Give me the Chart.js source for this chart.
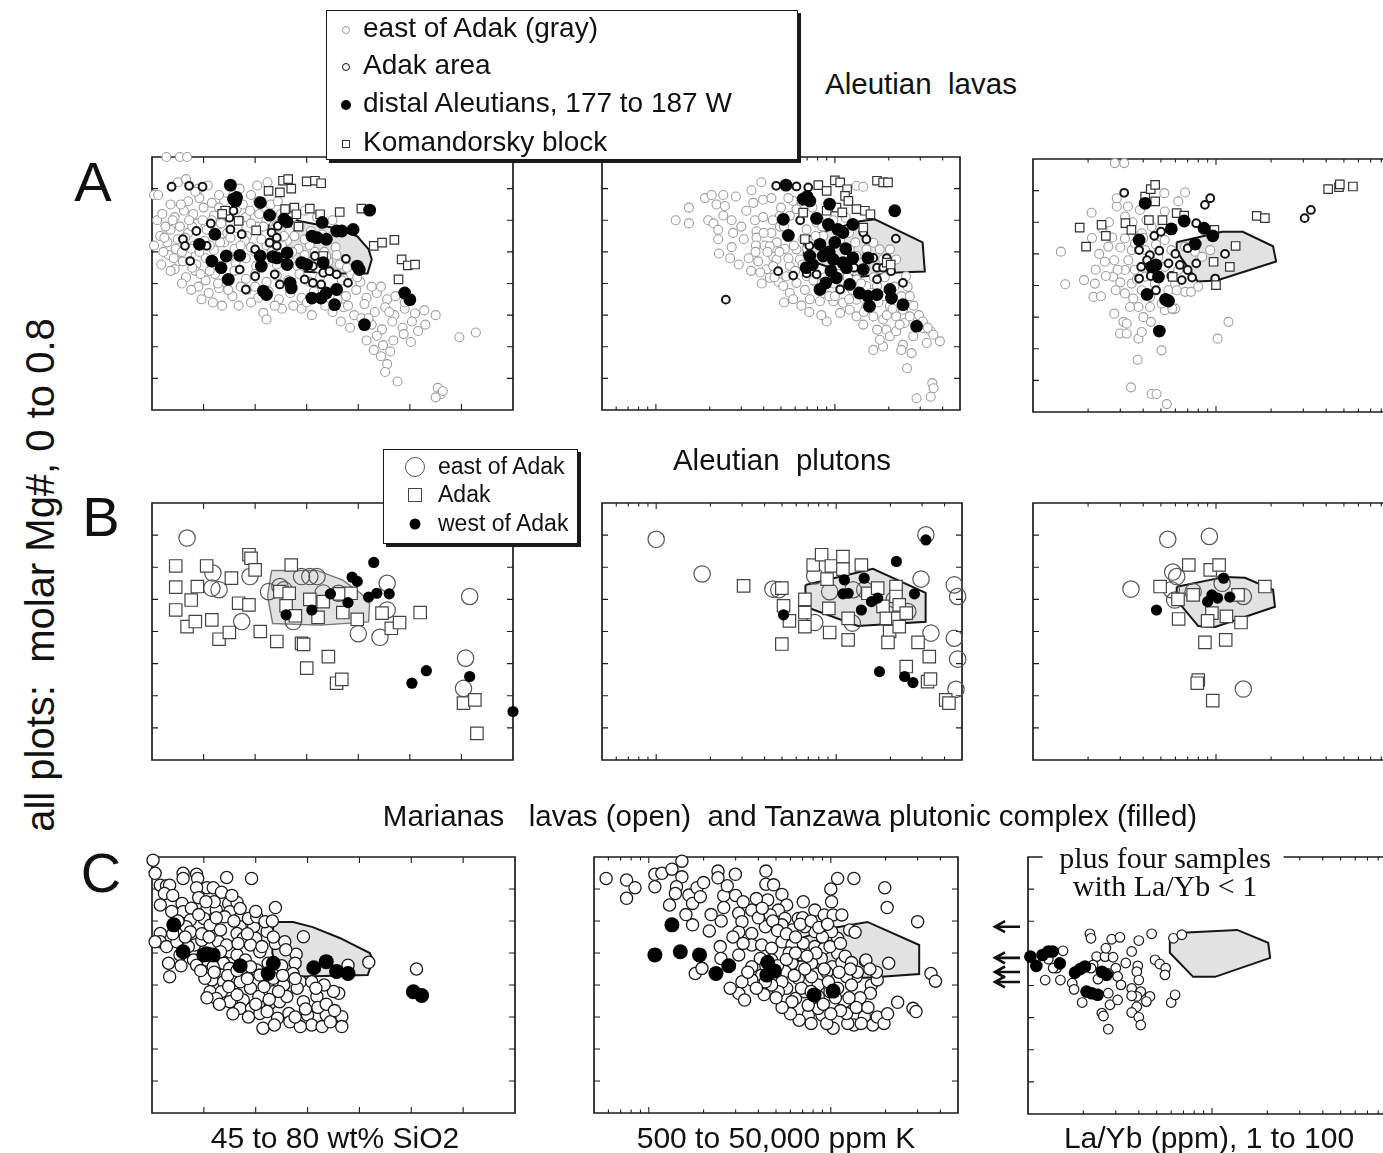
<!DOCTYPE html>
<html>
<head>
<meta charset="utf-8">
<script src="https://cdn.jsdelivr.net/npm/chart.js@4/dist/chart.umd.min.js"></script>
<style>
html, body { margin: 0; padding: 0; width: 1383px; height: 1153px; overflow: hidden; background: #fff; }
body { position: relative; font-family: "Liberation Sans", Arial, Helvetica, sans-serif; color: #111; }
canvas { position: absolute; }
.t { position: absolute; white-space: pre; line-height: 1; transform: translate(-50%, -50%); z-index: 3; }
.l { position: absolute; white-space: pre; line-height: 1; transform: translateY(-50%); }
.lg { position: absolute; box-sizing: border-box; background: #fff; border: 1.5px solid #1a1a1a; box-shadow: 3px 3px 0 #1a1a1a; z-index: 5; }
.mk { position: absolute; box-sizing: border-box; transform: translate(-50%, -50%); }
.serif { font-family: "Liberation Serif", "Times New Roman", serif; }
</style>
</head>
<body>

<div class="t" style="left:93px;top:182px;font-size:56px;">A</div>
<div class="t" style="left:101px;top:517px;font-size:56px;">B</div>
<div class="t" style="left:101px;top:873px;font-size:56px;">C</div>

<div class="t" style="left:921px;top:84px;font-size:29.5px;">Aleutian  lavas</div>
<div class="t" style="left:782px;top:460px;font-size:29.5px;">Aleutian  plutons</div>
<div class="t" style="left:790px;top:816px;font-size:29.5px;">Marianas   lavas (open)  and Tanzawa plutonic complex (filled)</div>

<div class="t" style="left:335px;top:1138px;font-size:30px;">45 to 80 wt% SiO2</div>
<div class="t" style="left:776px;top:1138px;font-size:30px;">500 to 50,000 ppm K</div>
<div class="t" style="left:1209px;top:1138px;font-size:30px;">La/Yb (ppm), 1 to 100</div>

<div class="t" style="left:40px;top:575px;font-size:40px;transform:translate(-50%,-50%) rotate(-90deg);">all plots:  molar Mg#, 0 to 0.8</div>

<div class="t serif" style="left:1165px;top:858px;font-size:30px;">plus four samples</div>
<div class="t serif" style="left:1165px;top:886px;font-size:30px;">with La/Yb &lt; 1</div>

<!-- legend for the lava panels -->
<div class="lg" style="left:326px;top:10px;width:472px;height:150px;">
  <span class="mk" style="left:19px;top:19px;width:8px;height:8px;border:1.3px solid #9a9a9a;border-radius:50%;"></span>
  <div class="l" style="left:36px;top:17px;font-size:28px;">east of Adak (gray)</div>
  <span class="mk" style="left:19px;top:56px;width:8px;height:8px;border:1.6px solid #111;border-radius:50%;"></span>
  <div class="l" style="left:36px;top:54px;font-size:28px;">Adak area</div>
  <span class="mk" style="left:19px;top:94px;width:10px;height:10px;background:#000;border-radius:50%;"></span>
  <div class="l" style="left:36px;top:92px;font-size:28px;">distal Aleutians, 177 to 187 W</div>
  <span class="mk" style="left:19px;top:133px;width:8px;height:8px;border:1.2px solid #333;"></span>
  <div class="l" style="left:36px;top:131px;font-size:28px;">Komandorsky block</div>
</div>

<!-- legend for the pluton panels -->
<div class="lg" style="left:383px;top:449px;width:195px;height:95px;">
  <span class="mk" style="left:31px;top:17px;width:20px;height:20px;border:1.2px solid #555;border-radius:50%;"></span>
  <div class="l" style="left:54px;top:16px;font-size:23px;">east of Adak</div>
  <span class="mk" style="left:31px;top:45px;width:14px;height:14px;border:1.2px solid #444;"></span>
  <div class="l" style="left:54px;top:44px;font-size:23px;">Adak</div>
  <span class="mk" style="left:31px;top:74px;width:11px;height:11px;background:#000;border-radius:50%;"></span>
  <div class="l" style="left:54px;top:73px;font-size:23px;">west of Adak</div>
</div>

<script>
// ---- axis ticks ----
const siTicks = [50, 55, 60, 65, 70, 75];
const mgTicks = [0.1, 0.2, 0.3, 0.4, 0.5, 0.6, 0.7];
const kMajor = [1000, 10000];
const kMinor = [600, 700, 800, 900, 2000, 3000, 4000, 5000, 6000, 7000, 8000, 9000, 20000, 30000, 40000];
const laybMajor = [10];
const laybMinor = [2, 3, 4, 5, 6, 7, 8, 9, 20, 30, 40, 50, 60, 70, 80, 90];

// Mg# of the four Marianas samples with La/Yb < 1 (shown as arrows)
const lowLaYbMg = [0.583, 0.486, 0.442, 0.411];

// ---- reference field outlines (x, Mg#) ----
const fieldA1 = [[56.2,0.54],[56.4,0.625],[59.4,0.597],[62.3,0.578],[64.9,0.549],[66,0.508],[66.3,0.476],[65.9,0.432],[63.2,0.432],[59.4,0.438],[56.2,0.508],[56.2,0.54]];
const fieldA2 = [[6700,0.545],[13800,0.597],[16700,0.603],[30900,0.53],[31800,0.438],[22400,0.435],[13300,0.42],[6700,0.48],[6700,0.545]];
const fieldA3 = [[6.1,0.537],[10.8,0.57],[14,0.57],[20.5,0.524],[21.3,0.476],[10.1,0.416],[7.95,0.413],[6.1,0.508],[6.1,0.537]];
const fieldB1 = [[56.6,0.59],[61,0.59],[63.5,0.56],[65.2,0.52],[66.1,0.49],[66,0.43],[61.3,0.42],[56.7,0.425],[56.2,0.51],[56.6,0.59]];
const fieldB2 = [[6750,0.545],[16000,0.595],[31400,0.52],[31400,0.43],[13200,0.417],[6750,0.477],[6750,0.545]];
const fieldB3 = [[6.1,0.539],[11.2,0.57],[14.4,0.567],[20.5,0.53],[21,0.477],[9.9,0.414],[8.0,0.417],[6.1,0.498],[6.1,0.539]];
const fieldC1 = [[56.7,0.597],[58.6,0.597],[60.5,0.581],[63.1,0.547],[66.0,0.5],[66.3,0.478],[65.8,0.431],[57.3,0.425],[56.6,0.5],[56.7,0.597]];
const fieldC2 = [[6700,0.545],[10260,0.578],[15900,0.597],[30600,0.525],[30600,0.434],[18100,0.425],[13000,0.42],[6700,0.47],[6700,0.545]];
const fieldC3 = [[5.9,0.536],[6.87,0.564],[13.7,0.573],[20.2,0.533],[20.7,0.486],[10.4,0.427],[7.9,0.427],[5.9,0.502],[5.9,0.536]];

// ---- Aleutian lavas: SiO2 (wt%) vs Mg# ----
const a1East = [[46.4,0.80],[47.7,0.80],[48.4,0.80],
[47.5,0.72],[48.3,0.73],[49.5,0.70],[50.4,0.71],[55.2,0.71],[56.2,0.72],
[45.2,0.68],[45.6,0.68],[48.5,0.66],[49.6,0.67],[50.8,0.655],[52,0.66],[52.9,0.68],[55.3,0.66],[56.5,0.65],[57.2,0.66],
[47.2,0.61],[48.1,0.63],[49,0.62],[50,0.64],[51,0.615],[52.1,0.62],[53.2,0.635],[54.1,0.61],[55.4,0.62],[56.1,0.6],[57.5,0.62],[58.6,0.61],[59.8,0.63],[61,0.61],[62.5,0.6],
[46.8,0.57],[47.7,0.58],[48.5,0.56],[49.4,0.59],[50.3,0.57],[51.3,0.585],[52.3,0.56],[53.3,0.575],[54.2,0.55],[55.2,0.58],[56,0.555],[57.1,0.585],[58.3,0.565],[59.3,0.58],[60.4,0.565],[61.5,0.555],
[45.2,0.52],[46.5,0.53],[47.3,0.51],[48.2,0.545],[49.1,0.52],[50.1,0.535],[51,0.505],[52,0.53],[53,0.51],[54,0.535],[55,0.5],[56.1,0.52],[57.2,0.5],[58.1,0.535],[59.2,0.51],[60.3,0.52],[61.7,0.5],[62.8,0.515],
[46.6,0.49],[47.6,0.47],[48.4,0.49],[49.3,0.46],[50.2,0.48],[51.2,0.46],[52.2,0.49],[53.1,0.465],[54.1,0.48],[55.1,0.455],[56.1,0.475],[57.1,0.46],[58.2,0.485],[59.1,0.455],[60.1,0.47],[61.1,0.45],[62.1,0.47],[63.2,0.46],
[47.2,0.445],[48.3,0.42],[49.2,0.44],[50.2,0.41],[51.1,0.43],[52.1,0.405],[53,0.44],[54.1,0.415],[55,0.43],[56.1,0.405],[57.1,0.425],[58.2,0.41],[59.3,0.43],[60.3,0.405],[61.3,0.42],[62.3,0.44],[63.4,0.41],[64.3,0.43],[65.2,0.405],
[49.5,0.39],[50.5,0.37],[51.5,0.385],[52.8,0.36],[54.2,0.38],[55.3,0.355],[56.3,0.375],[57.3,0.35],[58.4,0.37],[59.5,0.355],[60.7,0.375],[61.7,0.36],[62.8,0.385],[63.8,0.36],[64.8,0.38],[65.8,0.355],[66.8,0.37],[67.8,0.35],[68.6,0.36],
[55.8,0.307],[56.1,0.286],[59.5,0.32],[60.5,0.30],[61.8,0.33],[62.5,0.31],[63.6,0.325],[64.6,0.30],[65.6,0.335],[66.6,0.31],[67.6,0.325],[68.5,0.30],[69.5,0.32],[70.5,0.305],[71.4,0.315],[72.5,0.30],
[63.3,0.28],[64.2,0.26],[65.3,0.29],[66.3,0.27],[67.3,0.255],[68.3,0.28],[69.3,0.26],[70.2,0.28],[70.8,0.25],[71.5,0.27],
[65.8,0.22],[66.8,0.235],[67.4,0.205],[68.4,0.22],[69.4,0.24],[70.1,0.215],
[66.5,0.19],[67.2,0.17],[67.8,0.145],[68.1,0.185],[67.6,0.12],[68.8,0.09],[74.8,0.23],[76.4,0.245],[72.7,0.07],[73.0,0.05],[72.5,0.04],[73.2,0.06],
[45.5,0.6],[46,0.62],[46.3,0.58],[45.8,0.55],[46.1,0.5],[45.9,0.46],[46.8,0.44],[47.9,0.4],[48.8,0.38],[49.8,0.35],[50.9,0.34],[51.8,0.33],[53.4,0.33],[54.6,0.34],[55,0.39],[53.6,0.39],[52.4,0.38],[51.4,0.4],[50.6,0.44],[49.7,0.43],[48.9,0.45],[48,0.47],[47.1,0.48],[47.9,0.5],[48.8,0.51],[49.6,0.5],[50.6,0.52],[51.6,0.53],[52.6,0.545],[53.6,0.52],[54.6,0.515],[55.6,0.54],[56.6,0.5],[57.6,0.52],[58.6,0.5],[59.8,0.49],[60.8,0.5],[61.9,0.485],[62.9,0.49],[63.9,0.45],[64.9,0.42],[66.3,0.39],[67.2,0.39],[69.5,0.34],[68,0.31],[66,0.29],[64,0.33],[63,0.35],[60,0.34],[58.7,0.33],[57.6,0.32],[56.9,0.33],[47.5,0.54],[46.2,0.545],[47,0.6],[48.9,0.58],[49.9,0.6],[50.8,0.6],[51.7,0.59],[52.6,0.59],[53.5,0.6],[54.6,0.59],[55.8,0.58],[56.8,0.57],[57.8,0.55],[58.8,0.55],[59.8,0.54],[60.8,0.54],[48.6,0.6],[47.8,0.65],[46.8,0.65],[51.5,0.64],[53.8,0.65],[54.5,0.63],[49.2,0.69],[51.5,0.68],[54.6,0.68],[53.5,0.7]];
const a1Adak = [[46.9,0.706],[48.6,0.709],[49.9,0.706],[49.3,0.566],[50.7,0.59],[48.0,0.54],[48.2,0.519],[48.7,0.471],[50.3,0.519],[52.6,0.571],[52.5,0.608],[52.9,0.63],[53.7,0.556],[53.5,0.444],[54.1,0.381],[55.0,0.423],[55.0,0.508],[56.4,0.529],[56.6,0.561],[56.9,0.429],[57.1,0.519],[57.4,0.397],[59.8,0.413],[60.6,0.455],[60.6,0.402],[61.4,0.397],[61.6,0.434],[62.2,0.439],[62.9,0.429],[64.0,0.402],[63.8,0.478],[60.8,0.487],[57.2,0.582],[57.1,0.545]];
const a1Distal = [[52.6,0.711],[52.9,0.667],[53.2,0.672],[53.1,0.66],[55.5,0.656],[56.4,0.616],[57.8,0.603],[58.1,0.595],[61.5,0.593],[60.5,0.55],[61,0.545],[61.9,0.54],[62.9,0.566],[63.4,0.566],[64.5,0.571],[66.1,0.632],[49.6,0.524],[51.1,0.556],[50.8,0.471],[51.7,0.45],[52.4,0.413],[52.2,0.487],[53.5,0.489],[55.5,0.487],[55.6,0.455],[56.7,0.485],[57.1,0.481],[58.1,0.497],[58.1,0.46],[59.5,0.466],[60,0.46],[61.6,0.466],[65.1,0.444],[64.9,0.455],[55.8,0.376],[56.1,0.365],[58.4,0.402],[58.5,0.386],[60.5,0.354],[61.4,0.354],[61.9,0.37],[62.9,0.381],[62.7,0.333],[69.5,0.37],[70,0.349],[65.6,0.27]];
const a1Komandorsky = [[57.7,0.725],[58.2,0.73],[57.4,0.688],[58.5,0.7],[60,0.723],[60.8,0.725],[61.4,0.717],[56.3,0.693],[52.1,0.63],[51.8,0.62],[53.4,0.598],[55.1,0.568],[57.9,0.635],[58.8,0.64],[59,0.619],[60.3,0.637],[61.3,0.619],[63.2,0.626],[65.3,0.637],[59.2,0.58],[61.6,0.487],[66.5,0.519],[67.3,0.529],[68.5,0.538],[69.2,0.476],[69.8,0.457],[70.5,0.46],[68.9,0.413]];

// ---- Aleutian lavas: K (ppm) vs Mg# ----
const a2East = [[1290,0.60],[1530,0.64],[1530,0.59],[1880,0.67],[2050,0.68],[2380,0.68],[2800,0.675],[2180,0.65],[2430,0.645],[1960,0.60],[2100,0.59],[2230,0.57],[2650,0.60],[2380,0.615],[2230,0.54],[2250,0.495],[2650,0.515],[3200,0.63],[3100,0.54],[3420,0.695],[3880,0.72],[3500,0.655],[3970,0.665],[4420,0.67],[3580,0.60],[3970,0.61],[3650,0.565],[3650,0.545],[3620,0.52],[4050,0.52],[3730,0.47],[4150,0.445],[3830,0.435],[4520,0.485],[4420,0.56],[4930,0.58],[4730,0.53],[5360,0.555],[5250,0.51],[4850,0.405],[4330,0.418],[5150,0.392],[5600,0.37],[6100,0.402],[6800,0.38],[5850,0.35],[7250,0.35],[8250,0.344],[8600,0.37],[9000,0.28],[9800,0.344],[11100,0.339],[12100,0.317],[10700,0.307],[13200,0.296],[14400,0.27],[16400,0.296],[18600,0.286],[17200,0.254],[19400,0.254],[20300,0.233],[22000,0.249],[24500,0.275],[26200,0.296],[27400,0.233],[31100,0.259],[34300,0.249],[35500,0.238],[38600,0.217],[32600,0.212],[26800,0.18],[24000,0.206],[23500,0.19],[18600,0.201],[16400,0.19],[17800,0.222],[25300,0.132],[35000,0.085],[35600,0.069],[34300,0.042],[28600,0.037],
[4720,0.476],[5600,0.455],[6370,0.476],[6100,0.508],[6650,0.54],[5600,0.614],[6100,0.635],[7900,0.593],[6950,0.571],[8600,0.55],[10700,0.54],[12100,0.508],[13200,0.487],[15000,0.508],[16400,0.529],[17800,0.508],[18600,0.476],[17200,0.392],[18600,0.36],[15000,0.392],[13200,0.413],[11100,0.407],[9300,0.36],[7900,0.402],[6950,0.423],[5360,0.423],[4520,0.455],[4330,0.518],[20300,0.328],[22000,0.296],[24000,0.317],[15000,0.328],[13200,0.349],[12600,0.455],[20300,0.508],[22000,0.476],[25000,0.423],[26200,0.36],[11500,0.608],[13200,0.709],[14400,0.706],[4930,0.614],[5850,0.661],
[4200,0.5],[4900,0.5],[5500,0.48],[6000,0.44],[6600,0.46],[7300,0.44],[7600,0.41],[8800,0.42],[9800,0.4],[10500,0.43],[11800,0.42],[12500,0.38],[14000,0.4],[16000,0.37],[17500,0.34],[19500,0.3],[21000,0.32],[23000,0.27],[14500,0.31],[12000,0.35],[10000,0.36],[8400,0.3],[7200,0.31],[6500,0.33],[5200,0.34],[4600,0.42],[3900,0.4],[3400,0.44],[3300,0.48],[3600,0.5],[4000,0.56],[4500,0.6],[5000,0.64],[5500,0.67],[6500,0.66],[7500,0.64],[8200,0.6],[5200,0.58],[5900,0.52],[7000,0.51],[7800,0.55],[8500,0.58],[9800,0.6],[12000,0.56],[13000,0.53],[14800,0.45],[16500,0.42],[19000,0.42],[21500,0.39],[23500,0.36],[25500,0.39],[27500,0.33],[29500,0.3],[31000,0.28],[33000,0.26],[3000,0.58],[2700,0.56],[2900,0.46],[2600,0.48]];
const a2Adak = [[2460,0.349],[4820,0.439],[5850,0.425],[6950,0.432],[7900,0.429],[4700,0.709],[6100,0.707],[7100,0.704],[10700,0.381],[17200,0.413],[17200,0.45],[18600,0.45],[20600,0.439],[21900,0.542],[24000,0.402],[14400,0.561],[15000,0.54],[16400,0.481],[7200,0.519],[6400,0.6],[12800,0.45],[19500,0.48]];
const a2Distal = [[5330,0.711],[6650,0.667],[7250,0.661],[7000,0.675],[9340,0.651],[21600,0.63],[5150,0.603],[5500,0.552],[7900,0.606],[9200,0.587],[10400,0.571],[11100,0.561],[12600,0.587],[8250,0.524],[8600,0.487],[9300,0.5],[7250,0.487],[7500,0.46],[9800,0.476],[11100,0.466],[12600,0.481],[11600,0.45],[15300,0.481],[14400,0.444],[8900,0.402],[10200,0.418],[12100,0.397],[8250,0.381],[13700,0.37],[15300,0.36],[17200,0.365],[15600,0.328],[20300,0.381],[20700,0.354],[24000,0.333],[28600,0.265],[10000,0.53],[11500,0.51],[9500,0.44],[6900,0.45]];
const a2Komandorsky = [[8080,0.711],[10000,0.726],[10700,0.72],[9000,0.693],[11700,0.698],[17200,0.725],[18600,0.72],[19800,0.72],[11400,0.677],[11900,0.661],[9000,0.63],[10200,0.64],[11000,0.625],[13200,0.635],[14700,0.63],[15800,0.619],[6650,0.624],[14400,0.577],[6800,0.54],[19500,0.466],[20500,0.46]];

// ---- Aleutian lavas: La/Yb vs Mg# ----
const a3East = [[2.8,0.787],[3.15,0.787],[2.09,0.63],[2.87,0.65],[1.42,0.507],[1.5,0.404],[1.9,0.417],[2.18,0.406],[2.14,0.364],[2.35,0.366],[2.47,0.475],[2.58,0.523],[2.71,0.552],[2.78,0.48],[2.74,0.428],[2.83,0.385],[2.78,0.311],[3.12,0.285],[2.99,0.248],[3.25,0.248],[3.77,0.232],[3.73,0.165],[3.43,0.078],[4.45,0.057],[4.73,0.057],[5.38,0.025],[5.04,0.195],[4.41,0.285],[5.25,0.322],[5.84,0.324],[6.78,0.38],[10.2,0.232],[11.7,0.285],[3.84,0.639],[5.22,0.692],[6.22,0.666],[6.78,0.694],[2.87,0.676],[3.18,0.618],[3.18,0.549],[3.46,0.512],[3.32,0.48],[3.18,0.449],[3.46,0.406],[3.18,0.375],[3.53,0.359],[3.77,0.332],[3.39,0.332],[4.01,0.3],[4.36,0.332],[3.93,0.385],[4.36,0.364],[5.04,0.343],[5.49,0.385],[5.98,0.327],[5.98,0.406],[6.22,0.449],[5.7,0.512],[5.25,0.544],[4.45,0.586],[3.93,0.565],[3.61,0.533],[4.1,0.512],[4.84,0.491],[4.1,0.428],[4.63,0.406],[5.25,0.459],[6.78,0.523],[7.67,0.507],[8.4,0.491],[9.3,0.512],[8.0,0.396],[7.3,0.38],[6.1,0.385],[4.17,0.607],[5.25,0.634],[5.77,0.327],[3.93,0.253],[3.25,0.28],
[2.6,0.6],[3.0,0.52],[2.9,0.45],[3.6,0.45],[3.0,0.41],[3.7,0.42],[4.4,0.47],[4.0,0.55],[4.7,0.53],[2.5,0.43],[2.3,0.5],[2.1,0.55],[2.4,0.58],[3.5,0.6],[3.3,0.65],[2.2,0.45]];
const a3Adak = [[3.15,0.693],[8.7,0.655],[9.3,0.676],[30.5,0.613],[33,0.639],[7.8,0.597],[4.6,0.557],[5.0,0.57],[5.6,0.575],[3.8,0.512],[4.35,0.496],[4.9,0.51],[3.9,0.459],[5.5,0.47],[6.35,0.465],[7.0,0.449],[7.8,0.47],[7.4,0.425],[3.8,0.422],[4.4,0.43],[4.7,0.385],[6.5,0.417],[5.7,0.43],[7.0,0.518],[9.9,0.422],[11.2,0.5],[4.2,0.48],[6.0,0.5]];
const a3Distal = [[4.1,0.66],[3.8,0.544],[5.7,0.579],[6.7,0.604],[8.6,0.581],[9.6,0.557],[7.7,0.531],[4.45,0.459],[4.7,0.465],[4.85,0.427],[4.2,0.372],[5.3,0.356],[5.5,0.351],[4.9,0.256]];
const a3Komandorsky = [[1.8,0.583],[2.37,0.592],[2.5,0.557],[1.95,0.523],[3.2,0.597],[3.45,0.576],[4.1,0.681],[4.4,0.705],[4.65,0.718],[4.65,0.666],[4.3,0.607],[5.1,0.607],[6.1,0.629],[6.7,0.621],[16.7,0.62],[18.5,0.613],[9.8,0.576],[12.8,0.525],[11.9,0.459],[9.7,0.475],[5.8,0.427],[10,0.401],[41,0.705],[47,0.711],[47.5,0.72],[56,0.713]];

// ---- Aleutian plutons ----
const b1East = [[48.4,0.691],[50.9,0.582],[50.8,0.535],[51.5,0.53],[54.5,0.571],[53.7,0.431],[56.3,0.524],[57.4,0.54],[59.5,0.571],[60.3,0.571],[61,0.571],[58.7,0.431],[65,0.393],[67.1,0.382],[67.8,0.55],[67.8,0.467],[75.8,0.509],[75.4,0.317],[75.2,0.223],[63.1,0.519],[57.8,0.53],[61.6,0.52]];
const b1Adak = [[47.3,0.604],[47.3,0.538],[47.3,0.467],[48.8,0.498],[49.4,0.54],[48.4,0.415],[49.2,0.431],[50.3,0.604],[50.8,0.436],[51.5,0.376],[52.5,0.397],[52.7,0.566],[53.4,0.488],[54.4,0.639],[54.6,0.628],[55,0.592],[54.4,0.483],[55.5,0.4],[57.1,0.369],[58.5,0.607],[57.4,0.524],[58.3,0.519],[58,0.48],[58.9,0.449],[59.5,0.363],[59.7,0.36],[60,0.286],[60.3,0.5],[61.6,0.493],[61.1,0.444],[62.1,0.322],[62.9,0.239],[63.4,0.251],[63.2,0.517],[63.5,0.459],[64.3,0.519],[64.9,0.438],[67.3,0.457],[68.2,0.41],[69,0.428],[71,0.459],[75.2,0.177],[76.3,0.187],[76.5,0.083]];
const b1West = [[66.5,0.615],[64.4,0.569],[64.9,0.556],[62.3,0.517],[64,0.49],[66,0.507],[66.8,0.519],[68,0.517],[58,0.452],[60.5,0.467],[70.2,0.239],[71.6,0.278],[75.8,0.26],[80,0.151]];

const b2East = [[1000,0.687],[1800,0.579],[4450,0.532],[4800,0.53],[7600,0.573],[9200,0.524],[12400,0.53],[7600,0.428],[12300,0.426],[25000,0.462],[29600,0.563],[31500,0.701],[33600,0.395],[45300,0.545],[47300,0.509],[45300,0.379],[47300,0.314],[46300,0.22],[14400,0.53],[21000,0.5]];
const b2Adak = [[3060,0.542],[4990,0.535],[5100,0.48],[4990,0.361],[5500,0.433],[6700,0.5],[6700,0.459],[6700,0.415],[7450,0.607],[8300,0.639],[9400,0.604],[10900,0.633],[10900,0.594],[13800,0.607],[8900,0.563],[9100,0.472],[9200,0.397],[11650,0.441],[11650,0.374],[15000,0.519],[17000,0.535],[18200,0.478],[19000,0.441],[21500,0.54],[21500,0.509],[22400,0.483],[22000,0.441],[24500,0.457],[19800,0.4],[19400,0.366],[22400,0.415],[28500,0.366],[32900,0.322],[24500,0.291],[32200,0.244],[33400,0.252],[40600,0.187],[42300,0.177]];
const b2West = [[5100,0.452],[11100,0.561],[14300,0.566],[10900,0.517],[11650,0.519],[15700,0.493],[17000,0.504],[13800,0.467],[21600,0.618],[27200,0.517],[31500,0.685],[17400,0.275],[24000,0.26],[26700,0.241]];

const b3East = [[5.45,0.687],[9.2,0.696],[3.43,0.532],[6.1,0.571],[5.7,0.53],[7.5,0.524],[10.8,0.55],[14.1,0.509],[5.95,0.498],[14.1,0.221],[5.8,0.585]];
const b3Adak = [[4.95,0.54],[6.2,0.5],[7.1,0.607],[9.3,0.592],[10.4,0.607],[7.5,0.514],[9.5,0.457],[11.4,0.447],[6.25,0.439],[9.0,0.433],[13.7,0.428],[13.2,0.514],[18.5,0.54],[8.7,0.366],[11.3,0.374],[8.0,0.249],[7.9,0.239],[9.6,0.185]];
const b3West = [[4.73,0.467],[11,0.566],[9.5,0.514],[10.2,0.504],[9.0,0.493],[11.9,0.507]];

// ---- Marianas lavas (open) and Tanzawa plutonic complex (filled) ----
const c1Open = [[45.1,0.79],[45.3,0.749],[45.8,0.712],[46.4,0.71],[46.7,0.712],[46.2,0.686],[45.8,0.65],[48,0.749],[48,0.733],[49.3,0.746],[49.4,0.733],[52.2,0.736],[54.6,0.733],[56.9,0.642],[50.3,0.704],[50.9,0.704],[51.7,0.69],[49.3,0.704],[49.5,0.673],[47.9,0.655],[48,0.629],[48.8,0.64],[50.3,0.638],[51.2,0.634],[52.4,0.655],[53.2,0.658],[52.5,0.629],[50,0.608],[48.7,0.603],[48.3,0.582],[50.6,0.587],[51.6,0.572],[53.5,0.582],[53.2,0.561],[53.8,0.546],[54.8,0.582],[55,0.546],[56.1,0.567],[45.8,0.561],[45.8,0.535],[45.3,0.535],[46.4,0.52],[46.6,0.468],[46.7,0.426],[47.4,0.535],[49.1,0.525],[49.8,0.54],[49,0.478],[50.3,0.478],[51.2,0.462],[52.5,0.504],[54.5,0.525],[55.4,0.504],[56.9,0.53],[57.8,0.535],[58.9,0.496],[59.6,0.551],[58.8,0.468],[58.6,0.436],[56.2,0.468],[55.1,0.447],[51.9,0.468],[50.8,0.416],[50.6,0.379],[51.9,0.41],[51.7,0.379],[52.7,0.421],[53.5,0.41],[54.5,0.39],[55.3,0.364],[53.8,0.353],[52.5,0.348],[51.2,0.358],[53.5,0.327],[54.6,0.327],[55.4,0.311],[56.4,0.343],[57.3,0.348],[58.2,0.311],[57.1,0.296],[58.3,0.285],[55.7,0.265],[59.6,0.348],[60,0.306],[60.4,0.275],[60.9,0.364],[61.8,0.306],[63.3,0.301],[63.3,0.27],[63,0.374],[59.3,0.41],[60.4,0.41],[63.9,0.462],[65.9,0.471],[70.5,0.45],[61.4,0.27],[59.3,0.27],
[48.7,0.566],[51.4,0.535],[52.2,0.525],[51.6,0.504],[53.2,0.494],[54,0.478],[52.5,0.452],[54.5,0.457],[55.4,0.431],[56.7,0.421],[57.7,0.4],[56.7,0.379],[56.1,0.317],[58,0.364],[50.1,0.421],[50.9,0.457],[49.3,0.462],[47.7,0.494],[53.5,0.639],[52,0.613],[54.3,0.608],[55.1,0.613],[55.9,0.598],[57.5,0.46],[59.0,0.39],[61.0,0.33],[62.2,0.285],[49.8,0.56],[47.0,0.56],
[46.9,0.63],[47.5,0.6],[49.5,0.62],[51.2,0.61],[52.9,0.6],[54.2,0.56],[55.6,0.52],[53.3,0.53],[50.5,0.55],[48.5,0.52],[47.8,0.46],[49.7,0.445],[51,0.44],[52.3,0.43],[53.2,0.445],[54.2,0.42],[55.8,0.395],[57.2,0.38],[56.3,0.355],[55,0.34],[53.2,0.37],[52.4,0.395],[51.5,0.34],[50.3,0.36],[52.8,0.31],[54.3,0.3],[56.8,0.275],[58.8,0.3],[59.8,0.325],[61.8,0.34],[62.6,0.32],[62.5,0.38],[61.6,0.4],[60.8,0.39],[58.8,0.42],[57.6,0.43],[57.9,0.51],[56.7,0.55],[56.6,0.6],[55,0.63],[52.7,0.68],[51,0.66],[47,0.68],[50.2,0.66],[50.2,0.5],[48.2,0.55]];
const c1Filled = [[47.1,0.588],[48,0.504],[50,0.494],[50.4,0.496],[50.9,0.494],[53.5,0.46],[56.7,0.468],[56.2,0.436],[60.6,0.454],[61.8,0.473],[62.8,0.442],[63.9,0.436],[70.2,0.379],[71,0.367]];

const c2Open = [[583,0.733],[755,0.728],[840,0.704],[755,0.671],[1080,0.746],[1080,0.707],[1180,0.749],[1340,0.762],[1520,0.787],[1520,0.738],[1420,0.707],[1400,0.686],[1660,0.681],[1740,0.655],[1840,0.704],[1920,0.676],[2400,0.756],[2400,0.735],[2990,0.746],[2580,0.679],[2580,0.642],[1740,0.588],[2150,0.569],[3120,0.624],[3250,0.598],[3680,0.634],[3120,0.565],[2470,0.52],[2490,0.483],[1800,0.436],[1960,0.452],[3120,0.374],[3360,0.353],[4400,0.756],[4400,0.715],[4850,0.713],[4500,0.666],[5390,0.683],[5720,0.65],[7060,0.66],[5150,0.634],[4650,0.619],[5600,0.608],[6630,0.608],[8170,0.634],[9200,0.619],[10000,0.7],[10100,0.66],[10900,0.733],[13400,0.733],[10300,0.619],[11500,0.619],[19800,0.704],[20400,0.642],[30000,0.598],[12700,0.572],[13600,0.565],[15500,0.475],[20800,0.468],[23300,0.346],[28300,0.327],[29400,0.317],[35500,0.436],[37600,0.412],[16700,0.4],[18000,0.416],[16500,0.374],[15300,0.301],[17000,0.275],[13400,0.275],[12400,0.28],[10300,0.265],[8950,0.306],[7520,0.306],[8530,0.327],[10300,0.338],[11900,0.348],[12200,0.311],[13800,0.426],[12200,0.426],[10200,0.457],[10900,0.546],[10100,0.567],[8170,0.567],[7200,0.582],[6120,0.572],[5390,0.588],[4370,0.582],[3680,0.561],[3680,0.525],[4170,0.525],[4730,0.515],[5390,0.535],[6120,0.525],[7060,0.53],[8170,0.52],[9230,0.515],[10900,0.499],[8870,0.483],[7840,0.468],[6920,0.457],[6120,0.468],[5600,0.442],[4950,0.431],[4170,0.431],[3680,0.416],[3250,0.41],[4100,0.483],[4730,0.478],[6630,0.421],[5720,0.39],[6400,0.358],[7200,0.379],[8530,0.4],[8530,0.364],[9900,0.379],[10900,0.39],[5390,0.41],[6120,0.348],[5150,0.379],[4730,0.4],[4370,0.41],[7520,0.337],[3680,0.457],[3120,0.494],[6900,0.494],[7840,0.426],[15600,0.478],[9500,0.44],[11500,0.47],[13000,0.4],[14500,0.36],[9000,0.55],[7000,0.61],[5900,0.5],[4000,0.61],[2800,0.39],[2500,0.6],
[2000,0.72],[2700,0.71],[3000,0.68],[3300,0.66],[3900,0.67],[4200,0.64],[4800,0.6],[5100,0.57],[5700,0.56],[6400,0.55],[6800,0.59],[7800,0.6],[8600,0.58],[9600,0.59],[8300,0.5],[9900,0.52],[11300,0.53],[12000,0.49],[13000,0.47],[14000,0.44],[12800,0.45],[11100,0.44],[9200,0.45],[9700,0.41],[10600,0.36],[11300,0.32],[13800,0.33],[16000,0.33],[18000,0.3],[19600,0.28],[20500,0.31],[14700,0.28],[9500,0.28],[7800,0.28],[6700,0.29],[6000,0.31],[5400,0.33],[5000,0.36],[4300,0.37],[3900,0.39],[3500,0.44],[4400,0.46],[5100,0.46],[5700,0.48],[6400,0.5],[7400,0.49],[7200,0.45],[6300,0.43],[6900,0.39],[7800,0.38],[9100,0.34],[10000,0.31],[12600,0.36],[17800,0.44],[16400,0.45],[3300,0.53],[2900,0.55],[2200,0.62],[1600,0.62],[1300,0.65]];
const c2Filled = [[1340,0.588],[1080,0.494],[1490,0.504],[1900,0.494],[2340,0.436],[2750,0.46],[4500,0.471],[4450,0.431],[4900,0.444],[8100,0.369],[10300,0.381]];

const c3Open = [[2.17,0.561],[2.2,0.547],[2.85,0.544],[3.16,0.55],[4.0,0.54],[4.7,0.561],[6.17,0.547],[6.85,0.558],[1.55,0.508],[1.29,0.482],[1.43,0.454],[2.36,0.49],[2.62,0.49],[2.9,0.488],[2.65,0.516],[2.26,0.464],[2.2,0.454],[3.0,0.454],[3.66,0.506],[3.95,0.461],[3.9,0.443],[4.9,0.48],[5.2,0.467],[5.6,0.454],[5.55,0.433],[1.24,0.417],[1.5,0.417],[1.37,0.454],[1.74,0.407],[1.78,0.388],[1.97,0.347],[2.73,0.438],[3.07,0.428],[3.2,0.402],[3.66,0.391],[4.0,0.417],[4.1,0.381],[3.9,0.366],[3.66,0.368],[4.6,0.366],[4.4,0.35],[3.9,0.334],[3.66,0.316],[4.0,0.301],[4.1,0.277],[2.73,0.264],[2.52,0.314],[2.57,0.305],[2.79,0.34],[3.07,0.355],[2.73,0.376],[6.0,0.347],[6.3,0.371],[3.4,0.47],[2.4,0.42]];
const c3Filled = [[1.03,0.49],[1.11,0.461],[1.2,0.495],[1.29,0.506],[1.36,0.506],[1.49,0.469],[1.8,0.44],[1.92,0.451],[2.04,0.459],[2.08,0.381],[2.22,0.376],[2.39,0.371],[2.52,0.443],[2.67,0.433]];

// ---- marker styles ----
const STYLE = {
  field:   { showLine: true, pointRadius: 0, borderColor: '#151515', borderWidth: 2, backgroundColor: '#e2e2e2', fill: 'shape', tension: 0 },
  fieldB1: { showLine: true, pointRadius: 0, borderColor: '#777', borderWidth: 1.4, backgroundColor: '#e2e2e2', fill: 'shape', tension: 0 },
  aGray:   { pointRadius: 4.5, borderWidth: 1.1, borderColor: '#9d9d9d', backgroundColor: '#fff' },
  aAdak:   { pointRadius: 3.9, borderWidth: 2, borderColor: '#151515', backgroundColor: '#fff' },
  aDistal: { pointRadius: 6.4, borderWidth: 0, borderColor: '#000', backgroundColor: '#050505' },
  aKom:    { pointStyle: 'rect', pointRadius: 6, borderWidth: 1.2, borderColor: '#333', backgroundColor: '#fff' },
  bEast:   { pointRadius: 8.2, borderWidth: 1.2, borderColor: '#555', backgroundColor: 'rgba(255,255,255,0)' },
  bAdak:   { pointStyle: 'rect', pointRadius: 8.8, borderWidth: 1.2, borderColor: '#444', backgroundColor: '#fff' },
  bWest:   { pointRadius: 5.6, borderWidth: 0, borderColor: '#000', backgroundColor: '#000' },
  cOpen:   { pointRadius: 6.1, borderWidth: 1.3, borderColor: '#1a1a1a', backgroundColor: '#fff' },
  cFill:   { pointRadius: 7.5, borderWidth: 0, borderColor: '#000', backgroundColor: '#000' },
  c3Open:  { pointRadius: 4.8, borderWidth: 1.2, borderColor: '#1a1a1a', backgroundColor: '#fff' },
  c3Fill:  { pointRadius: 6.3, borderWidth: 0, borderColor: '#000', backgroundColor: '#000' }
};

function ds(data, style, order) {
  return Object.assign({ data: data, order: order, clip: false }, style);
}

// box frame with inward ticks on all sides; optional gap in the top edge and left-pointing arrows
const framePlugin = {
  id: 'frame',
  beforeDatasetsDraw(chart, args, o) {
    const { ctx, chartArea: a, scales: { x, y } } = chart;
    ctx.save();
    ctx.strokeStyle = '#1c1c1c';
    ctx.lineWidth = 1.7;
    ctx.beginPath();
    if (o.gap) {
      const g0 = x.getPixelForValue(o.gap[0]);
      const g1 = x.getPixelForValue(o.gap[1]);
      ctx.moveTo(g0, a.top); ctx.lineTo(a.left, a.top); ctx.lineTo(a.left, a.bottom);
      ctx.lineTo(a.right, a.bottom); ctx.lineTo(a.right, a.top); ctx.lineTo(g1, a.top);
    } else {
      ctx.rect(a.left, a.top, a.right - a.left, a.bottom - a.top);
    }
    ctx.stroke();
    ctx.lineWidth = 1.1;
    const inGap = (v) => o.gap && v > o.gap[0] && v < o.gap[1];
    const xt = (vals, len) => vals.forEach(v => {
      const px = x.getPixelForValue(v);
      ctx.beginPath(); ctx.moveTo(px, a.bottom); ctx.lineTo(px, a.bottom - len); ctx.stroke();
      if (!inGap(v)) { ctx.beginPath(); ctx.moveTo(px, a.top); ctx.lineTo(px, a.top + len); ctx.stroke(); }
    });
    const yt = (vals, len) => vals.forEach(v => {
      const py = y.getPixelForValue(v);
      ctx.beginPath(); ctx.moveTo(a.left, py); ctx.lineTo(a.left + len, py);
      ctx.moveTo(a.right, py); ctx.lineTo(a.right - len, py); ctx.stroke();
    });
    xt(o.xMajor || [], 6);
    xt(o.xMinor || [], 3.5);
    yt(o.yMajor || [], 6);
    ctx.restore();
  },
  afterDatasetsDraw(chart, args, o) {
    if (!o.arrows) return;
    const { ctx, chartArea: a, scales: { y } } = chart;
    ctx.save();
    ctx.strokeStyle = '#111';
    ctx.lineWidth = 2.6;
    ctx.lineCap = 'butt';
    o.arrows.forEach(v => {
      const py = y.getPixelForValue(v);
      const x0 = a.left - 33, x1 = a.left - 8;
      ctx.beginPath();
      ctx.moveTo(x1, py); ctx.lineTo(x0 + 1, py);
      ctx.moveTo(x0 + 10, py - 5.5); ctx.lineTo(x0, py); ctx.lineTo(x0 + 10, py + 5.5);
      ctx.stroke();
    });
    ctx.restore();
  }
};

const M = 40;
function panel(box, xScale, frame, datasets) {
  const c = document.createElement('canvas');
  c.width = box[2] + 2 * M;
  c.height = box[3] + 2 * M;
  c.style.left = (box[0] - M) + 'px';
  c.style.top = (box[1] - M) + 'px';
  document.body.appendChild(c);
  new Chart(c, {
    type: 'scatter',
    data: { datasets },
    options: {
      responsive: false, animation: false, devicePixelRatio: 1, events: [],
      layout: { padding: M },
      scales: {
        x: Object.assign({ display: false }, xScale),
        y: { type: 'linear', min: 0, max: 0.8, display: false }
      },
      plugins: { legend: { display: false }, tooltip: { enabled: false }, frame: Object.assign({ yMajor: mgTicks }, frame) }
    },
    plugins: [framePlugin]
  });
}

const X_SI = { type: 'linear', min: 45, max: 80 };
const X_K = { type: 'logarithmic', min: 500, max: 50000 };
const X_LY = { type: 'logarithmic', min: 1, max: 100 };
const F_SI = { xMajor: siTicks };
const F_K = { xMajor: kMajor, xMinor: kMinor };
const F_LY = { xMajor: laybMajor, xMinor: laybMinor };

// row A: Aleutian lavas
panel([152, 157, 361, 253], X_SI, F_SI, [
  ds(fieldA1, STYLE.field, 9), ds(a1East, STYLE.aGray, 8), ds(a1Adak, STYLE.aAdak, 6),
  ds(a1Komandorsky, STYLE.aKom, 5), ds(a1Distal, STYLE.aDistal, 4)]);
panel([602, 157, 358, 253], X_K, F_K, [
  ds(fieldA2, STYLE.field, 9), ds(a2East, STYLE.aGray, 8), ds(a2Adak, STYLE.aAdak, 6),
  ds(a2Komandorsky, STYLE.aKom, 5), ds(a2Distal, STYLE.aDistal, 4)]);
panel([1033, 159, 366, 253], X_LY, F_LY, [
  ds(fieldA3, STYLE.field, 9), ds(a3East, STYLE.aGray, 8), ds(a3Adak, STYLE.aAdak, 6),
  ds(a3Komandorsky, STYLE.aKom, 5), ds(a3Distal, STYLE.aDistal, 4)]);

// row B: Aleutian plutons
panel([152, 503, 361, 257], X_SI, F_SI, [
  ds(fieldB1, STYLE.fieldB1, 9), ds(b1East, STYLE.bEast, 7), ds(b1Adak, STYLE.bAdak, 6), ds(b1West, STYLE.bWest, 5)]);
panel([602, 503, 360, 257], X_K, F_K, [
  ds(fieldB2, STYLE.field, 9), ds(b2East, STYLE.bEast, 7), ds(b2Adak, STYLE.bAdak, 6), ds(b2West, STYLE.bWest, 5)]);
panel([1033, 503, 366, 257], X_LY, F_LY, [
  ds(fieldB3, STYLE.field, 9), ds(b3East, STYLE.bEast, 7), ds(b3Adak, STYLE.bAdak, 6), ds(b3West, STYLE.bWest, 5)]);

// row C: Marianas lavas and Tanzawa plutonic complex
panel([152, 857, 363, 256], X_SI, F_SI, [
  ds(fieldC1, STYLE.field, 9), ds(c1Open, STYLE.cOpen, 7), ds(c1Filled, STYLE.cFill, 5)]);
panel([594, 857, 364, 256], X_K, F_K, [
  ds(fieldC2, STYLE.field, 9), ds(c2Open, STYLE.cOpen, 7), ds(c2Filled, STYLE.cFill, 5)]);
panel([1028, 857, 368, 257], X_LY, Object.assign({ gap: [1.2, 24.5], arrows: lowLaYbMg }, F_LY), [
  ds(fieldC3, STYLE.field, 9), ds(c3Open, STYLE.c3Open, 7), ds(c3Filled, STYLE.c3Fill, 5)]);
</script>
</body>
</html>
